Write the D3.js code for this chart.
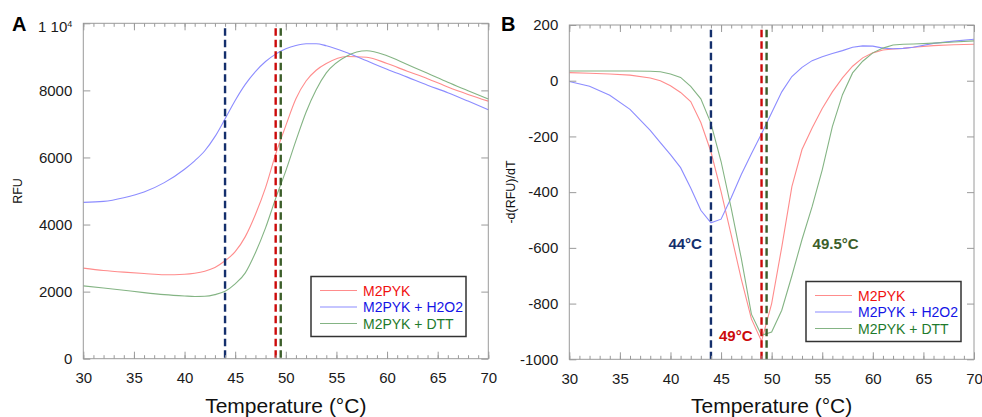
<!DOCTYPE html>
<html>
<head>
<meta charset="utf-8">
<script src="https://cdn.jsdelivr.net/npm/d3@7"></script>
<style>
  body { margin: 0; background: #fff; }
  text { font-family: "Liberation Sans", Arial, sans-serif; }
</style>
</head>
<body>
<svg width="982" height="417"></svg>
<script>
// Panel A - raw fluorescence
var tempsA = [30, 32, 34, 36, 38, 40, 41, 42, 43, 44, 45, 46, 47, 48, 49, 50, 51, 52, 53, 54, 56, 58, 60, 62, 64, 66, 68, 70];
var rfuM2PYK = [2700, 2630, 2580, 2540, 2505, 2520, 2550, 2610, 2720, 2920, 3190, 3640, 4300, 5100, 6100, 6950, 7750, 8280, 8600, 8800, 9010, 8990, 8800, 8570, 8350, 8100, 7880, 7680];
var rfuH2O2 = [4660, 4690, 4800, 4970, 5250, 5650, 5900, 6200, 6620, 7150, 7700, 8180, 8560, 8860, 9080, 9240, 9340, 9390, 9390, 9330, 9130, 8880, 8630, 8395, 8155, 7930, 7680, 7420];
var rfuDTT = [2170, 2110, 2040, 1970, 1910, 1870, 1855, 1860, 1910, 2010, 2230, 2560, 3160, 3900, 4780, 5600, 6500, 7350, 8020, 8520, 9020, 9180, 9030, 8770, 8510, 8240, 7990, 7740];

// Panel B - first derivative
var tempsB = [30, 32, 34, 36, 38, 39, 40, 41, 42, 43, 44, 45, 46, 47, 48, 49, 50, 51, 52, 53, 54, 55, 56, 57, 58, 59, 60, 61, 62, 63, 64, 66, 68, 70];
var derM2PYK = [29, 27, 24, 20, 10, 0, -18, -42, -75, -150, -255, -398, -553, -712, -855, -935, -800, -597, -380, -247, -170, -100, -40, 10, 52, 82, 100, 110, 114, 116, 120, 126, 129, 131];
var derH2O2 = [-3, -20, -52, -103, -178, -222, -265, -312, -385, -465, -510, -497, -420, -337, -262, -190, -115, -40, 15, 48, 72, 86, 98, 108, 120, 125, 124, 117, 115, 116, 120, 134, 142, 149];
var derDTT = [35, 35, 35, 35, 34, 32, 24, 12, -20, -65, -153, -290, -457, -638, -838, -914, -902, -824, -700, -570, -452, -320, -165, -50, 28, 70, 100, 117, 128, 131, 132, 135, 139, 143];

var seriesNames = ["M2PYK", "M2PYK + H2O2", "M2PYK + DTT"];
var lineColors = ["#ff8c8c", "#8c8cff", "#84b484"];
var labelColors = ["#f01010", "#1414e6", "#1e7a2c"];

var meltTemps = [44, 49, 49.5];
var meltLabels = ["44°C", "49°C", "49.5°C"];
var meltColors = ["#142f6c", "#cc0a0a", "#3c5e2a"];

var xTicks = [30, 35, 40, 45, 50, 55, 60, 65, 70];
var yTicksA = [0, 2000, 4000, 6000, 8000, 10000];
var yTicksB = [-1000, -800, -600, -400, -200, 0, 200];

var svg = d3.select("svg");
var axisColor = "#9a9a9a";

function drawPanel(p) {
  var x = d3.scaleLinear().domain([30, 70]).range([p.left, p.right]);
  var y = d3.scaleLinear().domain(p.yDomain).range([p.bottom, p.top]);
  var g = svg.append("g");

  // curves
  var line = d3.line()
    .x(function (d) { return x(d[0]); })
    .y(function (d) { return y(d[1]); })
    .curve(p.curve);
  p.series.forEach(function (vals, i) {
    g.append("path")
      .datum(p.temps.map(function (t, j) { return [t, vals[j]]; }))
      .attr("d", line)
      .attr("fill", "none")
      .attr("stroke", lineColors[i])
      .attr("stroke-width", 1.1);
  });

  // dashed melting temperature lines
  meltTemps.forEach(function (t, i) {
    g.append("line")
      .attr("x1", x(t)).attr("x2", x(t))
      .attr("y1", y(p.dashTop)).attr("y2", y(p.yDomain[0]))
      .attr("stroke", meltColors[i])
      .attr("stroke-width", 2.4)
      .attr("stroke-dasharray", "7.5,4");
  });

  // frame
  g.append("rect")
    .attr("x", p.left).attr("y", p.top)
    .attr("width", p.right - p.left).attr("height", p.bottom - p.top)
    .attr("fill", "none").attr("stroke", axisColor).attr("stroke-width", 1);

  function styleAxis(sel) {
    sel.select(".domain").remove();
    sel.selectAll(".tick line").attr("stroke", axisColor);
    sel.selectAll(".tick text").attr("fill", "#1a1a1a")
      .style("font-family", "'Liberation Sans', Arial, sans-serif");
  }

  var minor = d3.range(30, 71, 1);
  // bottom
  g.append("g").attr("transform", "translate(0," + p.bottom + ")")
    .call(d3.axisBottom(x).tickValues(xTicks).tickSize(-7).tickPadding(14))
    .call(styleAxis)
    .selectAll(".tick text").style("font-size", "15px");
  g.append("g").attr("transform", "translate(0," + p.bottom + ")")
    .call(d3.axisBottom(x).tickValues(minor).tickSize(-3.5).tickFormat(""))
    .call(styleAxis);
  // top
  g.append("g").attr("transform", "translate(0," + p.top + ")")
    .call(d3.axisTop(x).tickValues(xTicks).tickSize(-7).tickFormat(""))
    .call(styleAxis);
  g.append("g").attr("transform", "translate(0," + p.top + ")")
    .call(d3.axisTop(x).tickValues(minor).tickSize(-3.5).tickFormat(""))
    .call(styleAxis);
  // left
  var left = g.append("g").attr("transform", "translate(" + p.left + ",0)")
    .call(d3.axisLeft(y).tickValues(p.yTicks).tickSize(-7).tickPadding(11).tickFormat(p.tickFormat))
    .call(styleAxis);
  left.selectAll(".tick text").style("font-size", "15px");
  if (p.afterLeft) p.afterLeft(left);
  // right
  g.append("g").attr("transform", "translate(" + p.right + ",0)")
    .call(d3.axisRight(y).tickValues(p.yTicks).tickSize(-7).tickFormat(""))
    .call(styleAxis);

  // axis titles
  g.append("text")
    .attr("x", (p.left + p.right) / 2).attr("y", 413)
    .attr("text-anchor", "middle").attr("font-size", "21px").attr("fill", "#111")
    .text("Temperature (°C)");
  g.append("text")
    .attr("transform", "translate(" + p.yTitleX + "," + p.yTitleY + ") rotate(-90)")
    .attr("text-anchor", "middle").attr("font-size", "12.5px").attr("fill", "#111")
    .text(p.yTitle);
  g.append("text")
    .attr("x", p.panelX).attr("y", 30.5)
    .attr("font-size", "20px").attr("font-weight", "bold").attr("fill", "#000")
    .text(p.panelLabel);

  // legend
  var lg = g.append("g");
  lg.append("rect")
    .attr("x", p.legend[0]).attr("y", p.legend[1])
    .attr("width", 155).attr("height", 60)
    .attr("fill", "#fff").attr("stroke", "#333").attr("stroke-width", 1.5);
  seriesNames.forEach(function (name, i) {
    var ry = p.legend[1] + 14 + i * 16.5;
    lg.append("line")
      .attr("x1", p.legend[0] + 9).attr("x2", p.legend[0] + 46)
      .attr("y1", ry).attr("y2", ry)
      .attr("stroke", lineColors[i]).attr("stroke-width", 1.1);
    lg.append("text")
      .attr("x", p.legend[0] + 52).attr("y", ry + 5)
      .attr("font-size", "14px").attr("fill", labelColors[i])
      .text(name);
  });

  return { x: x, y: y, g: g };
}

// Panel A
drawPanel({
  left: 83.3, right: 488.3, top: 23.3, bottom: 358.7,
  yDomain: [0, 10000], yTicks: yTicksA, dashTop: 9850,
  temps: tempsA, series: [rfuM2PYK, rfuH2O2, rfuDTT],
  curve: d3.curveMonotoneX,
  tickFormat: function (d) { return d === 10000 ? "1 10" : d; },
  afterLeft: function (ax) {
    ax.selectAll(".tick text")
      .filter(function (d) { return d === 10000; })
      .attr("dy", "0.55em")
      .append("tspan")
      .attr("dy", "-0.55em")
      .attr("font-size", "9px")
      .text("4");
  },
  yTitle: "RFU", yTitleX: 22, yTitleY: 191,
  panelLabel: "A", panelX: 12,
  legend: [311, 276.5]
});

// Panel B
var pb = drawPanel({
  left: 569.3, right: 974, top: 25, bottom: 359.3,
  yDomain: [-1000, 200], yTicks: yTicksB, dashTop: 183,
  temps: tempsB, series: [derM2PYK, derH2O2, derDTT],
  curve: d3.curveLinear,
  tickFormat: function (d) { return d; },
  yTitle: "-d(RFU)/dT", yTitleX: 515, yTitleY: 192,
  panelLabel: "B", panelX: 501,
  legend: [806, 281.5]
});

// melting temperature annotations
var annPos = [[-605, "end", -9], [-935, "end", -9], [-605, "start", 46]];
meltTemps.forEach(function (t, i) {
  pb.g.append("text")
    .attr("x", pb.x(t) + annPos[i][2])
    .attr("y", pb.y(annPos[i][0]))
    .attr("text-anchor", annPos[i][1])
    .attr("font-size", "15px").attr("font-weight", "bold")
    .attr("fill", meltColors[i])
    .text(meltLabels[i]);
});
</script>
</body>
</html>
